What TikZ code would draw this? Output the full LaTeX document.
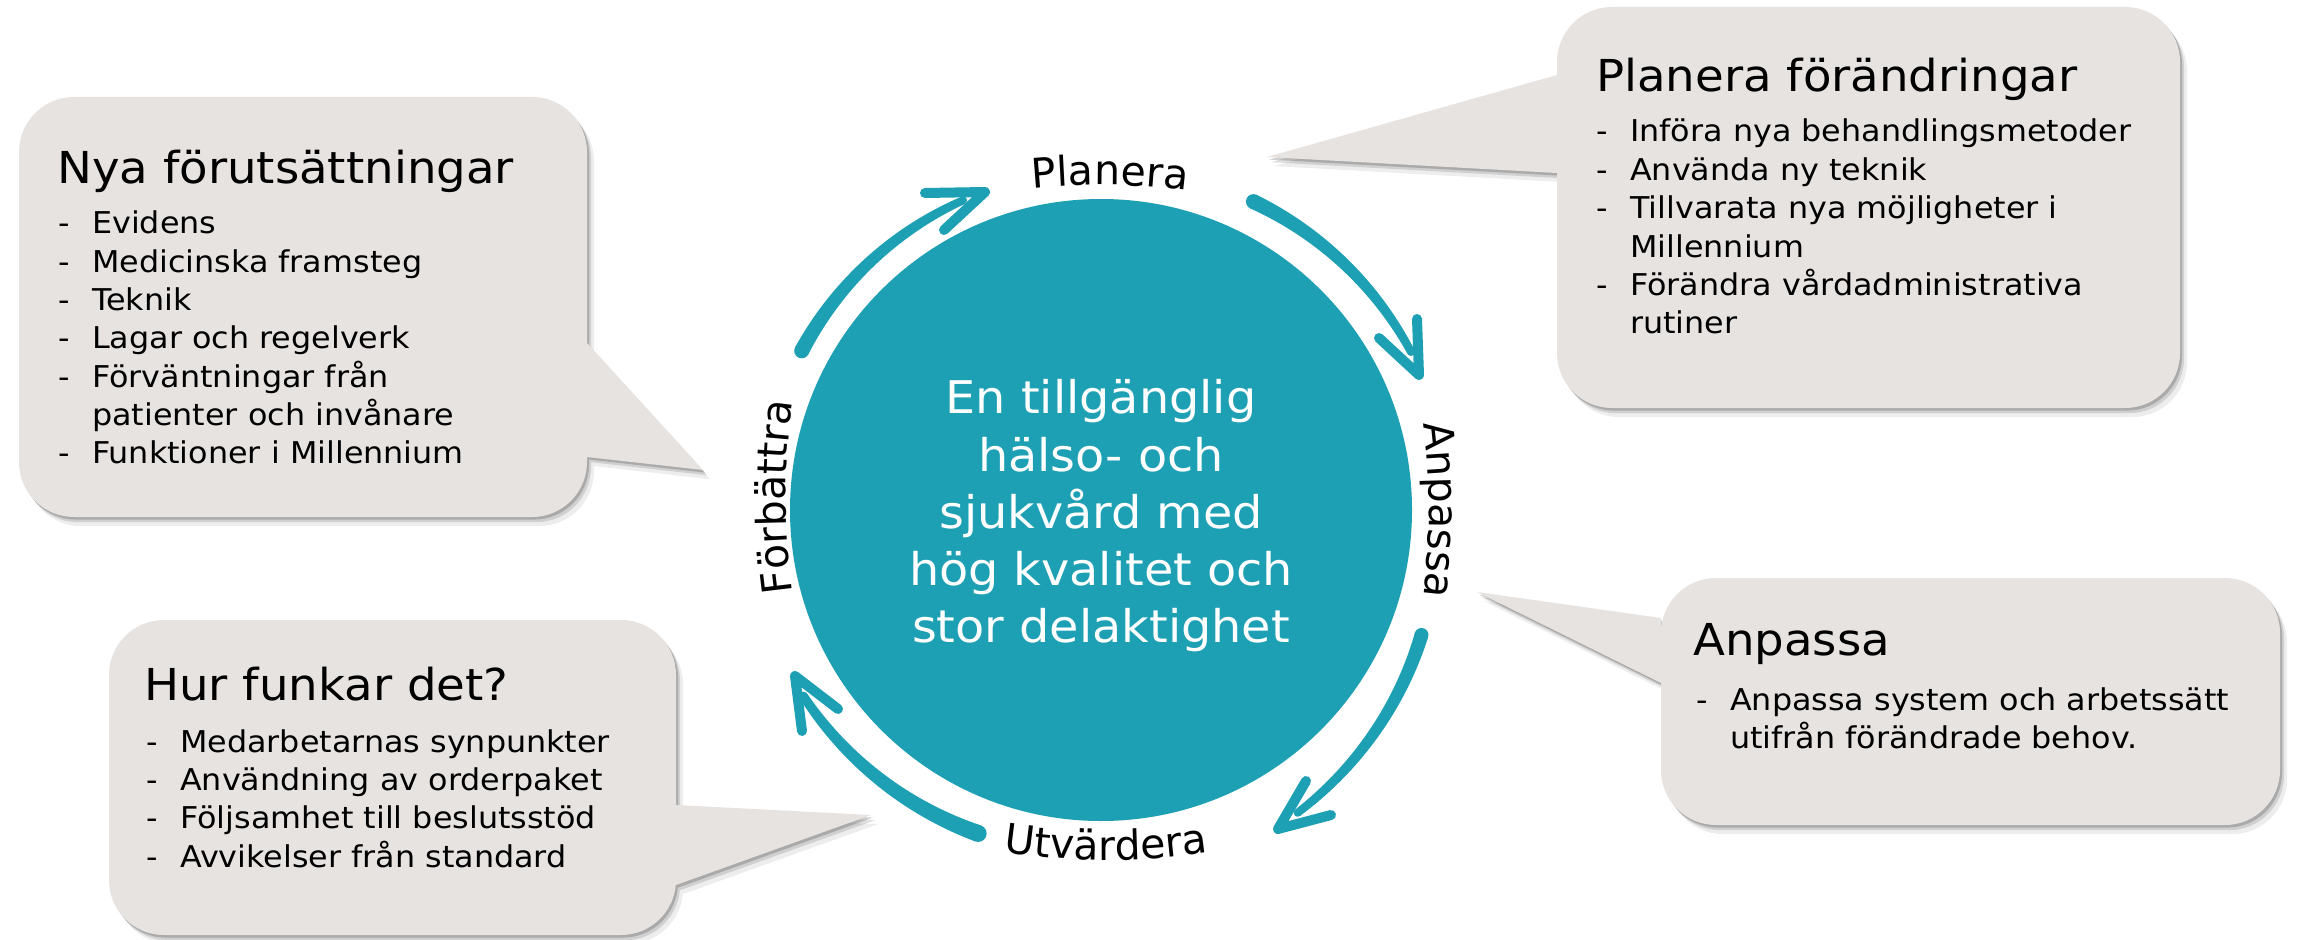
\documentclass[tikz,border=0pt]{standalone}
\usepackage{fontspec}
\setmainfont{DejaVu Sans}
\newfontfamily\widefont[FakeStretch=1.06]{DejaVu Sans}
\usetikzlibrary{decorations.text,calc}
\definecolor{teal1}{RGB}{30,160,180}
\definecolor{boxfill}{RGB}{231,227,225}
\newcommand\lblfont{\fontsize{41}{48}\selectfont}
% bubble with tail on the right: L T R B  tail-upper tail-lower tipx tipy (pixel coords, y down)
\newcommand\bubR[8]{(#3,-#5) -- (#3,-#2-55) arc[start angle=0,end angle=90,radius=55] -- (#1+55,-#2) arc[start angle=90,end angle=180,radius=55] -- (#1,-#4+55) arc[start angle=180,end angle=270,radius=55] -- (#3-55,-#4) arc[start angle=270,end angle=360,radius=55] -- (#3,-#6) -- (#7,-#8) -- cycle}
% bubble with tail on the left
\newcommand\bubL[8]{(#1,-#5) -- (#7,-#8) -- (#1,-#6) -- (#1,-#4+55) arc[start angle=180,end angle=270,radius=55] -- (#3-55,-#4) arc[start angle=270,end angle=360,radius=55] -- (#3,-#2-55) arc[start angle=0,end angle=90,radius=55] -- (#1+55,-#2) arc[start angle=90,end angle=180,radius=55] -- cycle}
\newcommand\drawbubR[8]{%
  \foreach \s/\o in {2/0.18,4/0.12,7/0.07}{\fill[black,opacity=\o,shift={(\s,-1.3*\s)}] \bubR{#1}{#2}{#3}{#4}{#5}{#6}{#7}{#8};}
  \fill[boxfill] \bubR{#1}{#2}{#3}{#4}{#5}{#6}{#7}{#8};}
\newcommand\drawbubL[8]{%
  \foreach \s/\o in {2/0.18,4/0.12,7/0.07}{\fill[black,opacity=\o,shift={(\s,-1.3*\s)}] \bubL{#1}{#2}{#3}{#4}{#5}{#6}{#7}{#8};}
  \fill[boxfill] \bubL{#1}{#2}{#3}{#4}{#5}{#6}{#7}{#8};}
% tapered arc shaft around the hub centre: angle a, angle b, radius a, radius b, width a, width b
\newcommand\taper[6]{%
  \begin{scope}[declare function={ss(\t)=(\t-(#1))/((#2)-(#1)); RR(\t)=(#3)+((#4)-(#3))*ss(\t); WW(\t)=(#5)+((#6)-(#5))*ss(\t);}]
  \fill[teal1] plot[domain=#1:#2, samples=40, variable=\t] ({1101+(RR(\t)+WW(\t)/2)*cos(\t)}, {-510+(RR(\t)+WW(\t)/2)*sin(\t)})
    -- plot[domain=#2:#1, samples=40, variable=\t] ({1101+(RR(\t)-WW(\t)/2)*cos(\t)}, {-510+(RR(\t)-WW(\t)/2)*sin(\t)}) -- cycle;
  \fill[teal1] ({1101+(#3)*cos(#1)},{-510+(#3)*sin(#1)}) circle[radius=(#5)/2];
  \fill[teal1] ({1101+(#4)*cos(#2)},{-510+(#4)*sin(#2)}) circle[radius=(#6)/2];
  \end{scope}}
\newcommand\bitem[4]{\node[itm] (#1) at (#2,-#3) {\makebox[34pt][l]{-}#4};}
\newcommand\bcont[4]{\node[itm] (#1) at (#2+34,-#3) {#4};}
\tikzset{
  ttl/.style={anchor=base west, inner sep=0pt, font=\widefont\fontsize{44}{50}\selectfont},
  itm/.style={anchor=base west, inner sep=0pt, font=\widefont\fontsize{30}{36}\selectfont},
  ctr/.style={anchor=base, inner sep=0pt, text=white, font=\widefont\fontsize{45}{54}\selectfont},
  barb/.style={draw=teal1, line width=10pt, line cap=round, line join=round},
}
\begin{document}
\begin{tikzpicture}[x=1pt,y=1pt]
\useasboundingbox (0,0) rectangle (2298,-939);
\fill[white] (0,0) rectangle (2298,-939);

% speech bubbles
\drawbubR{19}{97}{587}{517}{343}{457}{703}{470}
\drawbubL{1557}{7}{2180}{408}{75}{173}{1267}{157}
\drawbubR{109}{620}{676}{935}{805}{885}{871}{815}
\drawbubL{1661}{578}{2280}{825}{618}{683}{1477}{592}

% central circle
\node[circle, fill=teal1, minimum size=622pt, inner sep=0pt] (hub) at (1101,-510) {};
\node[ctr] (c1) at (1101,-413) {En tillgänglig};
\node[ctr] (c2) at (1101,-471) {hälso- och};
\node[ctr] (c3) at (1101,-528) {sjukvård med};
\node[ctr] (c4) at (1101,-585) {hög kvalitet och};
\node[ctr] (c5) at (1101,-642) {stor delaktighet};

% labels around the circle (gently arched text)
\path[decorate, decoration={text along path, text={|\lblfont|Planera}, text align=center}]
  ($(1110,-185)+(269.2:700)+(104.2:700)$) arc[start angle=104.2, end angle=74.2, radius=700];
\path[decorate, decoration={text along path, text={|\lblfont|Anpassa}, text align=center}]
  ($(1429,-510)+(180:700)+(15:700)$) arc[start angle=15, end angle=-15, radius=700];
\path[decorate, decoration={text along path, text={|\lblfont|Utvärdera}, text align=center}]
  ($(1106,-860)+(90:700)+(-105:700)$) arc[start angle=-105, end angle=-75, radius=700];
\path[decorate, decoration={text along path, text={|\lblfont|Förbättra}, text align=center}]
  ($(786,-497)+(0:700)+(195:700)$) arc[start angle=195, end angle=165, radius=700];

% cycle arrows
\taper{152}{114}{339}{339}{15}{8}
\coordinate (a1t) at (985,-192); \coordinate (a1u) at (925,-193); \coordinate (a1l) at (944,-230);
\draw[barb] (a1u) -- (a1t) -- (a1l);

\taper{63.7}{27}{344}{348}{15}{8}
\coordinate (a2t) at (1419,-375); \coordinate (a2u) at (1417,-319); \coordinate (a2l) at (1379,-338);
\draw[barb] (a2u) -- (a2t) -- (a2l);

\taper{-21.3}{-57}{344}{361}{14}{8}
\coordinate (a3t) at (1278,-829); \coordinate (a3u) at (1306,-781); \coordinate (a3l) at (1331,-815);
\draw[barb] (a3u) -- (a3t) -- (a3l);

\taper{249.2}{212}{346}{351}{17}{9}
\coordinate (a4t) at (795,-676); \coordinate (a4u) at (838,-709); \coordinate (a4l) at (802,-731);
\draw[barb] (a4u) -- (a4t) -- (a4l);

% bubble texts
\node[ttl] (t1) at (57,-183) {Nya förutsättningar};
\bitem{i11}{58}{233}{Evidens}
\bitem{i12}{58}{272}{Medicinska framsteg}
\bitem{i13}{58}{310}{Teknik}
\bitem{i14}{58}{348}{Lagar och regelverk}
\bitem{i15}{58}{387}{Förväntningar från}
\bcont{i16}{58}{425}{patienter och invånare}
\bitem{i17}{58}{463}{Funktioner i Millennium}

\node[ttl] (t2) at (1596,-92) {Planera förändringar};
\bitem{i21}{1596}{142}{Införa nya behandlingsmetoder}
\bitem{i22}{1596}{180}{Använda ny teknik}
\bitem{i23}{1596}{218}{Tillvarata nya möjligheter i}
\bcont{i24}{1596}{257}{Millennium}
\bitem{i25}{1596}{295}{Förändra vårdadministrativa}
\bcont{i26}{1596}{333}{rutiner}

\node[ttl] (t3) at (144,-700) {Hur funkar det?};
\bitem{i31}{146}{752}{Medarbetarnas synpunkter}
\bitem{i32}{146}{790}{Användning av orderpaket}
\bitem{i33}{146}{828}{Följsamhet till beslutsstöd}
\bitem{i34}{146}{867}{Avvikelser från standard}

\node[ttl] (t4) at (1693,-655) {Anpassa};
\bitem{i41}{1696}{710}{Anpassa system och arbetssätt}
\bcont{i42}{1696}{748}{utifrån förändrade behov.}
\end{tikzpicture}
\end{document}
